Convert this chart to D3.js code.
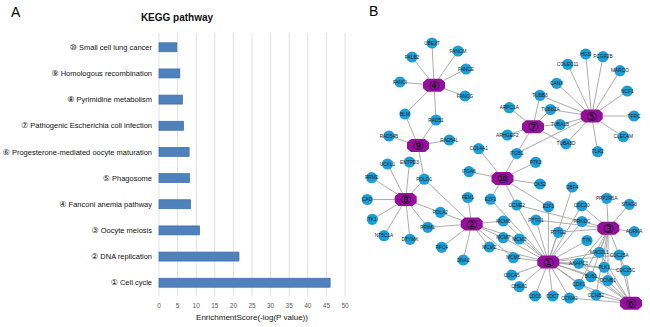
<!DOCTYPE html>
<html><head><meta charset="utf-8">
<script src="https://cdn.jsdelivr.net/npm/d3@7"></script>
<style>body{margin:0;background:#fff;} svg{display:block;font-family:"Liberation Sans",Arial,sans-serif;}</style>
</head><body><svg id="c" width="650" height="327"></svg>
<script>
// ---------- Panel A data ----------
const pathways = ["Small cell lung cancer","Homologous recombination","Pyrimidine metabolism",
  "Pathogenic Escherichia coli infection","Progesterone-mediated oocyte maturation","Phagosome",
  "Fanconi anemia pathway","Oocyte meiosis","DNA replication","Cell cycle"];
const pathwayNums = ["⑩","⑨","⑧","⑦","⑥","⑤","④","③","②","①"];
const scores = [4.8,5.6,6.3,6.6,8.1,8.2,8.5,10.9,21.5,46.0];
const xTicks = [0,5,10,15,20,25,30,35,40,45,50];

// ---------- Panel B data (network layout coordinates) ----------
const hubIds = ["h1","h2","h3","h4","h5","h6","h7","h8","h9","h10"];
const hubLabels = ["①","②","③","④","⑤","⑥","⑦","⑧","⑨","⑩"];
const hubX = [548.3,471.7,608.3,434,591.7,631,533,405.7,418,502.5];
const hubY = [262,224,228.3,85.3,116,303.3,126.7,199.5,145.5,178.5];

const genes = ["UBE2T","FANCM","PALB2","FANCE","FANCI","FANCG","BLM","RAD51","RAD54B","RAD54L",
  "ENTPD3","UCKL1","POLD1","RRM2","CAD","TK1","POLA2","PRIM1","NT5C1A","DTYMK",
  "RFC4","DNA2","FEN1","MCM2","COL4A1","ITGA6","E2F1","ITGB1","PTK2","CKS2",
  "CCNE2","E2F3","DBF4","CDC20","PRKDC","MCM6","PTTG1","PTTG2","MCM7","MCM3",
  "TTK","MCM5","ANAPC1","CDC45","CHEK1","CDK1","CDC6","CDC7","CCNA2","PPP2R5A",
  "STAG3","AURKA","MAD2L1","CDC25A","PLK1","CDC25C","BUB1","CCNB1","CCNB2","ARPC1A",
  "ARHGEF2","TUBB3","TUBB2A","TUBA1B","TUBA3D","HGS","FCGR2B","COLEC11","MARCO","CANX",
  "NCF1","TFRC","CLEC4M","TLR2"];
const geneX = [432,458,412,466,400,465,405,436,389,449.3,
  409.5,387.5,424.2,371.7,367.2,372.3,440.3,427.7,384,410,
  441.7,463.3,467.8,489.3,478.7,469,490.5,516.7,535.7,540,
  516.7,548.5,572.3,581.7,582,503.3,536,558.3,503.3,519.3,
  587,513.3,578.7,511.7,519.3,579,535,552.7,569.5,606.7,
  629.3,634.3,599.3,619.3,604.3,625.7,591,607.7,596,509.3,
  507.3,540,550.5,560,566,585.7,603,567.7,620,556.7,
  627.3,634,623.3,597.7];
const geneY = [43,51,57,69,82,96,114,120,136,140,
  162,164,179.2,177.7,199.5,219.3,212.3,227.3,235.7,239.3,
  247.3,260,197.5,247,148.7,171.7,199.2,153.5,162.3,184,
  205,206.7,187,205.8,221.5,221,220,232.3,237.7,239,
  240.5,257.7,263.3,275,286.7,284.3,296,296,298,198.3,
  204.3,231.7,252.3,255,267.3,270.7,276.7,280.7,295,107.7,
  135,95.3,109.5,124.5,143.8,54,56.7,64.3,70.7,83.3,
  91,116,136.7,151.7];

const hubGenes = {
  h4:["UBE2T","FANCM","PALB2","FANCE","FANCI","FANCG","BLM","RAD51"],
  h9:["BLM","RAD51","RAD54B","RAD54L","POLD1"],
  h8:["UCKL1","ENTPD3","RRM2","POLD1","CAD","TK1","NT5C1A","DTYMK","PRIM1","POLA2"],
  h2:["POLD1","FEN1","POLA2","PRIM1","RFC4","DNA2","MCM2","MCM3","MCM5","MCM6","MCM7"],
  h10:["COL4A1","ITGA6","ITGB1","PTK2","CKS2","E2F1","CCNE2","E2F3"],
  h7:["ARPC1A","ARHGEF2","ITGB1","TUBB3","TUBB2A","TUBA1B","TUBA3D"],
  h5:["HGS","FCGR2B","COLEC11","MARCO","CANX","NCF1","TFRC","CLEC4M","TLR2","TUBB3","TUBB2A","TUBA1B","TUBA3D","ITGB1"],
  h1:["MCM2","MCM3","MCM5","MCM6","MCM7","CDC45","CHEK1","CDC6","CDC7","CCNA2","CDK1","ANAPC1","TTK","PTTG1","PTTG2","PRKDC","CDC20","DBF4","E2F1","E2F3","CCNE2","CCNB1","CCNB2","BUB1","PLK1","MAD2L1","CDC25A","CDC25C"],
  h3:["CDC20","PPP2R5A","STAG3","AURKA","CCNE2","PTTG1","PTTG2","MAD2L1","PLK1","CDC25C","BUB1","CCNB1","CDK1","CCNB2","ANAPC1"],
  h6:["CCNA2","CCNB2","CDK1","CCNB1","BUB1","PLK1","MAD2L1","CDC25A","CDC25C","ANAPC1"]
};

const svg = d3.select("#c");

// ---------- Panel A ----------
const x = d3.scaleLinear().domain([0,50]).range([159,345]);
const y = d3.scaleBand().domain(pathways).range([34.2,295.8]).paddingInner(0.656).paddingOuter(0.328);
const gA = svg.append("g");

gA.selectAll("line.grid").data(xTicks).join("line")
  .attr("x1",d=>x(d)).attr("x2",d=>x(d)).attr("y1",33).attr("y2",296)
  .attr("stroke","#d9d9d9").attr("stroke-width",0.8);

gA.selectAll("rect.bar").data(pathways).join("rect")
  .attr("x",x(0)).attr("y",d=>y(d))
  .attr("width",(d,i)=>x(scores[i])-x(0)).attr("height",y.bandwidth())
  .attr("fill","#4f81bd").attr("stroke","#3a6dab").attr("stroke-width",0.7);

const cat = gA.selectAll("text.cat").data(pathways).join("text")
  .attr("x",152).attr("y",d=>y(d)+y.bandwidth()/2).attr("dy","0.35em")
  .attr("text-anchor","end").attr("font-size",7.5).attr("fill","#111");
cat.append("tspan").attr("font-family","DejaVu Sans").attr("font-size",8)
  .text((d,i)=>pathwayNums[i]);
cat.append("tspan").text(d=>" "+d);

gA.selectAll("text.tick").data(xTicks).join("text")
  .attr("x",d=>x(d)).attr("y",308).attr("text-anchor","middle")
  .attr("font-size",6.5).attr("fill","#595959").text(d=>d);

gA.append("text").attr("x",(x(0)+x(50))/2).attr("y",320).attr("text-anchor","middle")
  .attr("font-size",8).attr("fill","#111").text("EnrichmentScore(-log(P value))");

gA.append("text").attr("x",177).attr("y",21).attr("text-anchor","middle")
  .attr("font-size",10).attr("font-weight","bold").attr("fill","#111").text("KEGG pathway");

svg.append("text").attr("x",11).attr("y",17).attr("font-size",14).attr("fill","#000").text("A");
svg.append("text").attr("x",369).attr("y",16).attr("font-size",14).attr("fill","#000").text("B");

// ---------- Panel B ----------
const nx = d3.scaleLinear().domain([360,650]).range([360,650]);
const ny = d3.scaleLinear().domain([0,327]).range([0,327]);
const pos = {};
hubIds.forEach((h,i)=>pos[h]=[nx(hubX[i]),ny(hubY[i])]);
genes.forEach((g,i)=>pos[g]=[nx(geneX[i]),ny(geneY[i])]);

const edges = [];
hubIds.forEach(h=>hubGenes[h].forEach(g=>edges.push([h,g])));
const gB = svg.append("g");
gB.selectAll("line.edge").data(edges).join("line")
  .attr("x1",d=>pos[d[0]][0]).attr("y1",d=>pos[d[0]][1])
  .attr("x2",d=>pos[d[1]][0]).attr("y2",d=>pos[d[1]][1])
  .attr("stroke","#a3a3a3").attr("stroke-width",0.9);

gB.selectAll("circle.gene").data(genes).join("circle")
  .attr("cx",d=>pos[d][0]).attr("cy",d=>pos[d][1]).attr("r",5.6)
  .attr("fill","#1c9fd8");
gB.selectAll("text.gene").data(genes).join("text")
  .attr("x",d=>pos[d][0]).attr("y",d=>pos[d][1]).attr("dy","0.35em")
  .attr("text-anchor","middle").attr("font-size",4.8).attr("fill","#1a1a1a").text(d=>d);

const oct = [[-11,-3],[-7,-6.5],[7,-6.5],[11,-3],[11,3],[7,6.5],[-7,6.5],[-11,3]];
const hubG = gB.selectAll("g.hub").data(hubIds).join("g")
  .attr("transform",d=>`translate(${pos[d][0]},${pos[d][1]})`);
hubG.append("path").attr("d",d3.line()(oct)+"Z").attr("fill","#930f9c");
hubG.append("text").attr("dy","0.37em").attr("text-anchor","middle")
  .attr("font-family","DejaVu Sans").attr("font-size",12.5).attr("fill","#111")
  .text((d,i)=>hubLabels[i]);
</script></body></html>
